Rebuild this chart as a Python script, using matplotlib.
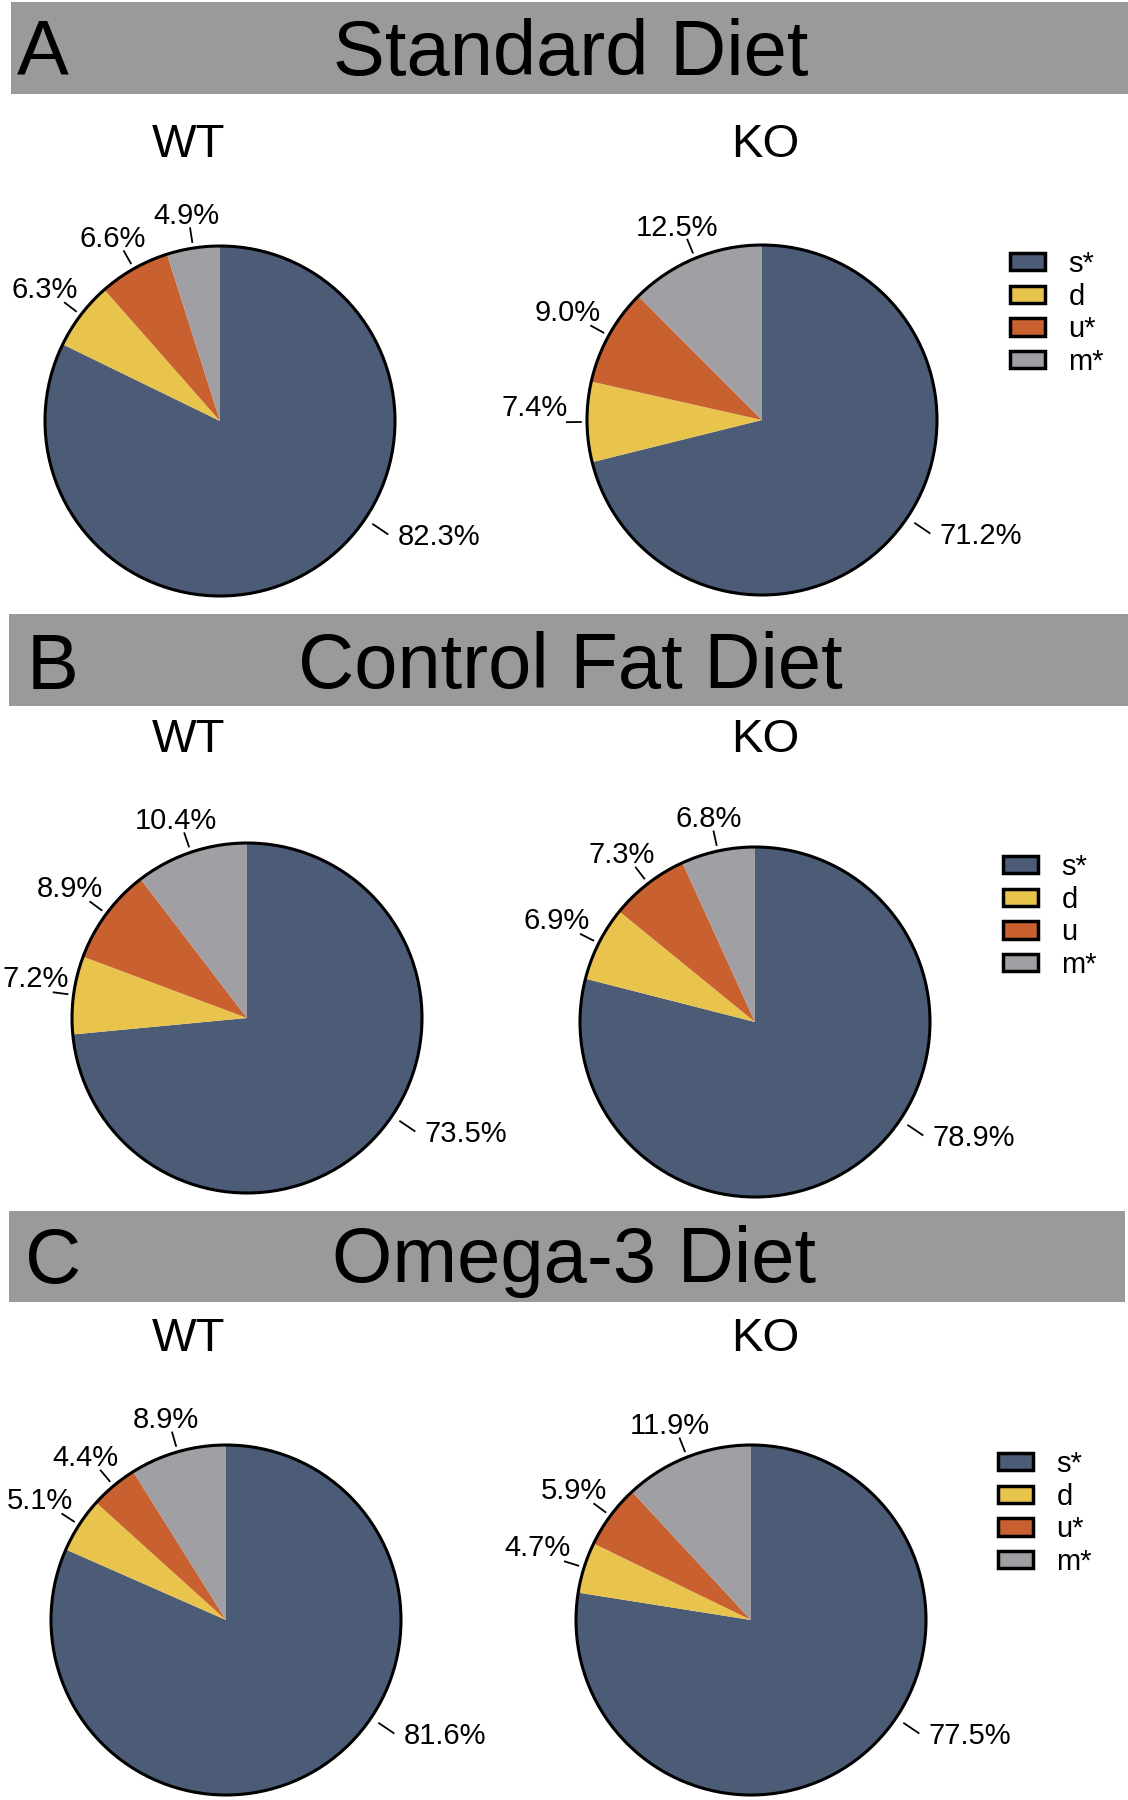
import numpy as np
import matplotlib
matplotlib.use("Agg")
import matplotlib.pyplot as plt
from matplotlib.patches import Rectangle, Circle, Patch

plt.rcParams['font.family'] = ['Liberation Sans', 'DejaVu Sans']

# ---------------- data ----------------
diets = ['Standard Diet', 'Control Fat Diet', 'Omega-3 Diet']
panel_letters = ['A', 'B', 'C']
genotypes = ['WT', 'KO']
std_wt = [82.3, 6.3, 6.6, 4.9]
std_ko = [71.2, 7.4, 9.0, 12.5]
cfd_wt = [73.5, 7.2, 8.9, 10.4]
cfd_ko = [78.9, 6.9, 7.3, 6.8]
o3_wt = [81.6, 5.1, 4.4, 8.9]
o3_ko = [77.5, 4.7, 5.9, 11.9]
std_labels = ['s*', 'd', 'u*', 'm*']
cfd_labels = ['s*', 'd', 'u', 'm*']
o3_labels = ['s*', 'd', 'u*', 'm*']

values = [[std_wt, std_ko], [cfd_wt, cfd_ko], [o3_wt, o3_ko]]
legend_labels = [std_labels, cfd_labels, o3_labels]

# ---------------- style / layout ----------------
colors = ['#4c5c77', '#e8c44c', '#c8602f', '#a09fa4']
header_color = '#9a9a9a'
W, H = 1128, 1800
R = 175.0           # pie radius in pixels
EXT = 1.7           # axes half-size in radius units

bars = [(11, 2, 1117, 92), (9, 614, 1119, 92), (9, 1211, 1116, 91)]
letter_xy = [(17, 75), (27, 689), (25, 1283)]
title_xy = [(571, 75), (570, 688), (574, 1282)]
geno_y = [157, 752, 1351]
geno_x = [189, 765]
centers = [[(220, 421), (762, 420)],
           [(247, 1018), (755, 1022)],
           [(226, 1620), (751, 1620)]]
legend_xy = [(1010, 250), (1003, 853), (998, 1450)]
big_label_angle = -34.0
LABEL_FS = 21

fig = plt.figure(figsize=(W / 100, H / 100), dpi=100)
bg = fig.add_axes([0, 0, 1, 1])
bg.set_xlim(0, W)
bg.set_ylim(H, 0)
bg.axis('off')

for i in range(3):
    x, y, w, h = bars[i]
    bg.add_patch(Rectangle((x, y), w, h, facecolor=header_color, edgecolor='none'))
    bg.text(letter_xy[i][0], letter_xy[i][1], panel_letters[i], fontsize=56,
            ha='left', va='baseline', color='black')
    bg.text(title_xy[i][0], title_xy[i][1], diets[i], fontsize=56,
            ha='center', va='baseline', color='black')
    for j in range(2):
        bg.text(geno_x[j], geno_y[i], genotypes[j], fontsize=34,
                ha='center', va='baseline', color='black')

renderer = fig.canvas.get_renderer()

for i in range(3):
    for j in range(2):
        cx, cy = centers[i][j]
        side = 2 * EXT * R
        ax = fig.add_axes([(cx - EXT * R) / W, 1 - (cy + EXT * R) / H, side / W, side / H])
        vals = values[i][j]
        wedges, _ = ax.pie(vals, colors=colors, startangle=90, counterclock=False,
                           radius=1.0, wedgeprops=dict(linewidth=0, edgecolor='none'))
        ax.add_patch(Circle((0, 0), 1.0, fill=False, edgecolor='black', lw=2.2, zorder=5))
        ax.set_xlim(-EXT, EXT)
        ax.set_ylim(-EXT, EXT)
        ax.set_aspect('equal')
        ax.axis('off')
        for k, wdg in enumerate(wedges):
            if k == 0:
                ang = big_label_angle
                r0, r1 = 1.05, 1.16
            else:
                ang = (wdg.theta1 + wdg.theta2) / 2.0
                r0, r1 = 1.03, 1.12
            a = np.deg2rad(ang)
            c, s = np.cos(a), np.sin(a)
            ax.plot([r0 * c, r1 * c], [r0 * s, r1 * s], color='black', lw=1.3,
                    solid_capstyle='butt', clip_on=False)
            ex, ey = r1 * c, r1 * s
            t = ax.text(ex, ey, f"{vals[k]:.1f}%", fontsize=LABEL_FS, ha='center',
                        va='center', color='black', clip_on=False)
            bb = t.get_window_extent(renderer)
            tw, th = bb.width, bb.height
            if k == 0:
                dx_px = tw / 2 + 9
                dy_px = -2.0
            else:
                f = 0.6 + 0.35 * (1 - abs(s))
                dx_px = c * (tw / 2) * f
                dy_px = s * (th / 2 - 3) + (1 - abs(s)) * 14
            # keep the label inside the figure
            left_px = cx + ex * R + dx_px - tw / 2
            if left_px < 2:
                dx_px += 2 - left_px
            t.set_position((ex + dx_px / R, ey + dy_px / R))

    handles = [Patch(facecolor=colors[k], edgecolor='black', lw=2.5) for k in range(4)]
    lx, ly = legend_xy[i]
    fig.legend(handles, legend_labels[i], loc='upper left',
               bbox_to_anchor=(lx / W, 1 - ly / H), frameon=False, fontsize=21,
               handlelength=1.2, handleheight=0.55, handletextpad=0.8,
               labelspacing=0.16, borderpad=0, borderaxespad=0)

fig.savefig('out.png', dpi=100)
